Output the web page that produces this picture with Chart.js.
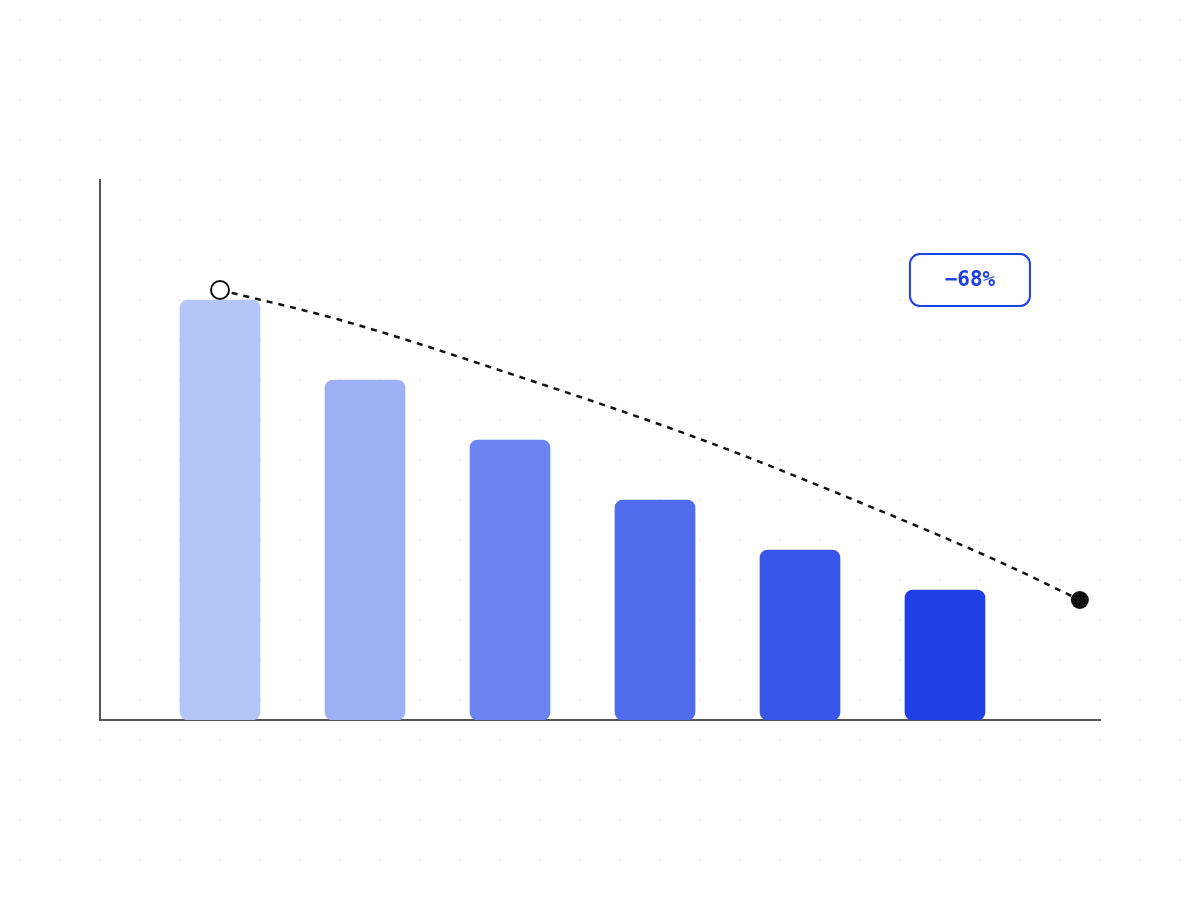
<!DOCTYPE html>
<html>
<head>
<meta charset="utf-8">
<script src="https://cdn.jsdelivr.net/npm/chart.js@4.4.1/dist/chart.umd.min.js"></script>
<style>
  html, body { margin: 0; padding: 0; background: #fff; }
  #wrap { width: 1200px; height: 900px; }
</style>
</head>
<body>
<div id="wrap"><canvas id="grafico" width="1200" height="900"></canvas></div>
<script>
// datos
const barPositions = [0, 1, 2, 3, 4, 5];
const barValues = [105, 85, 70, 55, 42.5, 32.5];
const barColors = ['#b4c6f8', '#9db0f5', '#6b84f0', '#506ced', '#3956e8', '#1e40e5'];

// tendencia
const trendX = [0, 0.83, 2.07, 3.31, 4.34, 5.38, 5.93];
const trendY = [107.5, 100, 85.75, 70.25, 55.5, 39.5, 30];

const changeLabel = '\u221268%';

// fondo de puntos
const dotGrid = {
    id: 'dotGrid',
    beforeDraw(chart) {
        const ctx = chart.ctx;
        ctx.save();
        ctx.fillStyle = '#eceffb';
        for (let y = 20; y < chart.height; y += 40) {
            for (let x = 20; x < chart.width; x += 40) {
                ctx.fillRect(x - 1, y - 1, 2, 2);
            }
        }
        ctx.restore();
    }
};

// etiqueta del cambio
const changeBox = {
    id: 'changeBox',
    afterDatasetsDraw(chart) {
        const ctx = chart.ctx;
        const cx = chart.scales.x.getPixelForValue(5.172);
        const cy = chart.scales.y.getPixelForValue(110);
        const w = 120, h = 52;
        ctx.save();
        ctx.beginPath();
        ctx.roundRect(cx - w / 2, cy - h / 2, w, h, 10);
        ctx.fillStyle = '#ffffff';
        ctx.fill();
        ctx.lineWidth = 2;
        ctx.strokeStyle = '#1e40e5';
        ctx.stroke();
        ctx.fillStyle = '#1e40e5';
        ctx.font = 'bold 21px "DejaVu Sans Mono"';
        ctx.textAlign = 'center';
        ctx.textBaseline = 'middle';
        ctx.fillText(changeLabel, cx, cy + 1);
        ctx.restore();
    }
};

const ctxGrafico = document.getElementById('grafico');

let grafico = new Chart(ctxGrafico, {
    type: 'bar',
    data: {
        datasets: [{
            type: 'line',
            data: trendX.map((x, i) => ({ x: x, y: trendY[i] })),
            borderColor: '#111111',
            borderWidth: 2.5,
            borderDash: [6, 6],
            cubicInterpolationMode: 'monotone',
            fill: false,
            pointRadius: trendX.map((_, i) => i === 0 ? 9 : (i === trendX.length - 1 ? 9 : 0)),
            pointBackgroundColor: trendX.map((_, i) => i === 0 ? '#ffffff' : '#111111'),
            pointBorderColor: '#111111',
            pointBorderWidth: trendX.map((_, i) => i === 0 ? 2 : 0),
            order: 0
        }, {
            type: 'bar',
            data: barPositions.map((x, i) => ({ x: x, y: barValues[i] })),
            backgroundColor: barColors,
            borderRadius: 8,
            borderSkipped: false,
            barThickness: 80,
            order: 1
        }]
    },
    options: {
        responsive: false,
        animation: false,
        devicePixelRatio: 1,
        layout: { padding: { left: 100, right: 100, top: 180, bottom: 180 } },
        plugins: {
            legend: { display: false },
            tooltip: { enabled: false }
        },
        scales: {
            x: {
                type: 'linear',
                offset: false,
                min: -0.8276,
                max: 6.069,
                ticks: { display: false, padding: 0 },
                grid: { display: false, drawTicks: false, tickLength: 0, offset: false },
                border: { display: true, color: '#555555', width: 2 }
            },
            y: {
                min: 0,
                max: 135,
                ticks: { display: false, padding: 0 },
                grid: { display: false, drawTicks: false, tickLength: 0 },
                border: { display: true, color: '#555555', width: 2 }
            }
        }
    },
    plugins: [dotGrid, changeBox]
});
</script>
</body>
</html>
